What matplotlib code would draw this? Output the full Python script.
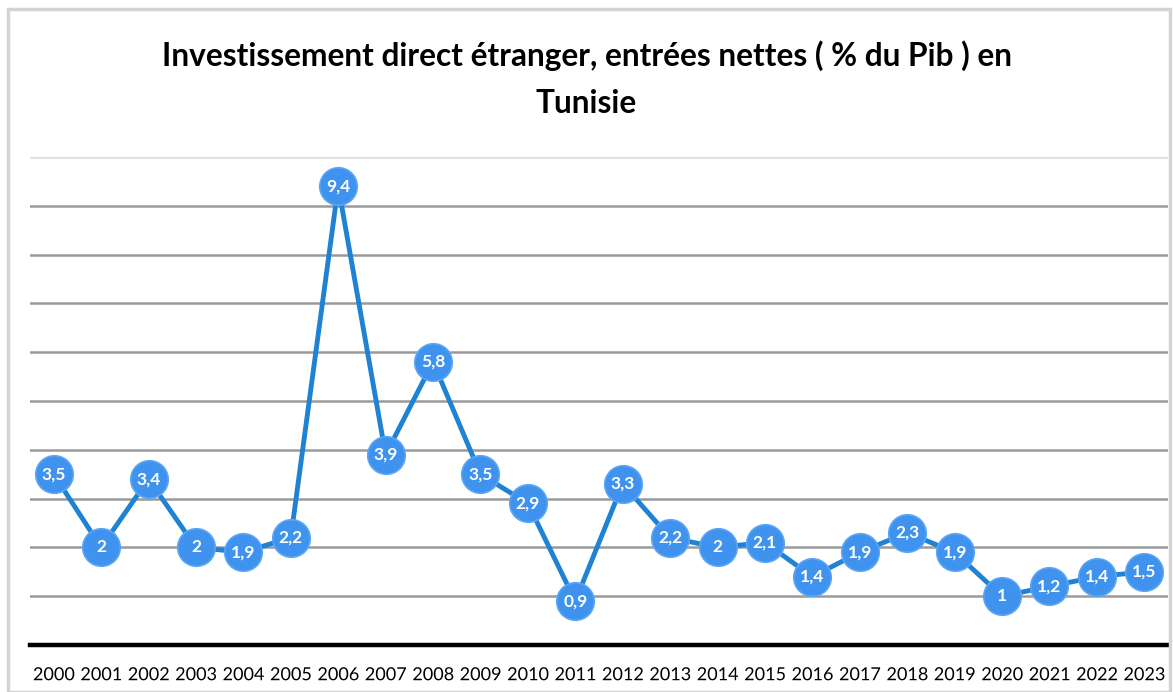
import numpy as np
import matplotlib.pyplot as plt
from matplotlib.patches import Rectangle
import matplotlib.patheffects as pe

years = [str(y) for y in range(2000, 2024)]
valeurs = [3.5, 2, 3.4, 2, 1.9, 2.2, 9.4, 3.9, 5.8, 3.5, 2.9, 0.9, 3.3,
           2.2, 2, 2.1, 1.4, 1.9, 2.3, 1.9, 1, 1.2, 1.4, 1.5]
titre = 'Investissement direct étranger, entrées nettes ( % du Pib ) en\nTunisie'

plt.rcParams['font.family'] = ['Lato', 'DejaVu Sans']

fig = plt.figure(figsize=(11.73, 6.92), dpi=100)
fig.patch.set_facecolor('white')

# cadre gris clair
fig.patches.append(Rectangle((8 / 1173, 0), 1 - 8 / 1173 - 3 / 1173, 1 - 9 / 692,
                             transform=fig.transFigure, fill=False,
                             edgecolor='#d4d4d4', linewidth=2.5, zorder=0))

ax = fig.add_axes([30 / 1173, 47 / 692, 1138 / 1173, 488 / 692])
ax.set_facecolor('none')
x = np.arange(len(years))

for v in range(1, 11):
    ax.axhline(v, color='#9a9a9a' if v < 10 else '#dcdcdc', linewidth=1.8, zorder=1)
ax.axhline(0, color='black', linewidth=3.2, zorder=2, clip_on=False)

ax.plot(x, valeurs, color='#1f82d2', linewidth=3.5, zorder=3)
ax.plot(x, valeurs, linestyle='none', marker='o', markersize=27,
        markerfacecolor='#3f93ee', markeredgecolor='#5aa5f5', markeredgewidth=1.2, zorder=4)

for xi, v in zip(x, valeurs):
    lab = str(v).replace('.', ',') if v != int(v) else str(int(v))
    ax.text(xi, v, lab, ha='center', va='center', color='white',
            fontsize=12.5, fontweight='bold', zorder=5)

ax.set_xlim(-0.5, 23.5)
ax.set_ylim(0, 10)
ax.set_xticks(x)
ax.set_xticklabels(years, fontsize=13)
ax.tick_params(axis='x', length=0, pad=16)
ax.set_yticks([])
for s in ax.spines.values():
    s.set_visible(False)
for t in ax.get_xticklabels():
    t.set_path_effects([pe.withStroke(linewidth=3, foreground='white')])

fig.text(0.5, 1 - 79 / 692, titre, ha='center', va='center', fontsize=22.8,
         fontweight='bold', linespacing=1.72)

fig.savefig('out.png', dpi=100)
